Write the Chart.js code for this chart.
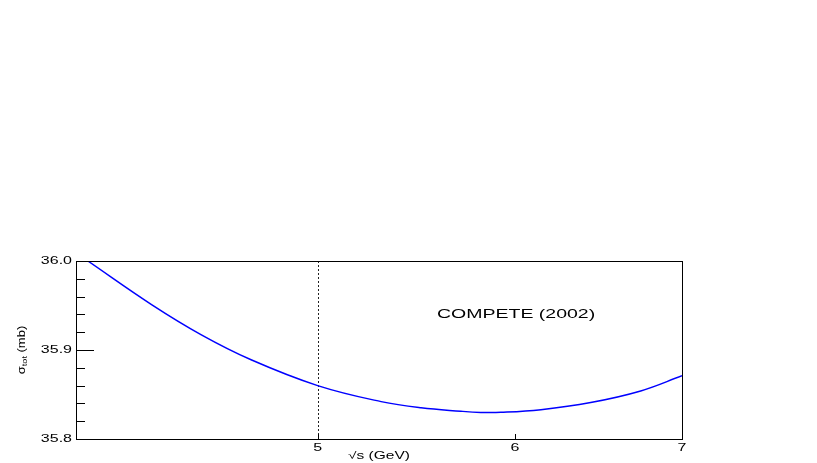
<!DOCTYPE html>
<html>
<head>
<meta charset="utf-8">
<script src="https://cdn.jsdelivr.net/npm/chart.js@4/dist/chart.umd.min.js"></script>
<style>
  html, body { margin: 0; padding: 0; background: #fff; }
  #wrap { width: 817px; height: 463px; }
</style>
</head>
<body>
<div id="wrap"><canvas id="myChart" width="817" height="463"></canvas></div>
<script>
// curve: sqrt(s) in GeV, sigma_tot in mb
const sqrtS = [4.044, 4.289, 4.491, 4.702, 5.0, 5.302, 5.501, 5.707, 5.813, 5.922, 6.145, 6.434, 6.738, 7.0];
const sigmaTot = [36.0, 35.951, 35.917, 35.889, 35.86, 35.842, 35.835, 35.8312, 35.8299, 35.83, 35.833, 35.841, 35.854, 35.871];

// axes
const xTickValues = [5, 6, 7];
const xTickLabels = ["5", "6", "7"];
const yMajorTicks = [35.8, 35.9, 36.0];
const yTickLabels = ["35.8", "35.9", "36.0"];
const yMinorTicks = [35.82, 35.84, 35.86, 35.88, 35.92, 35.94, 35.96, 35.98];
const markLine = 5;

const xTitle = "\u221As (GeV)";
const yTitle = ["\u03C3", "tot", " (mb)"];
const note = "COMPETE (2002)";

const FONT = "Liberation Sans, Arial, sans-serif";

// ROOT-ish wide text
function wideText(ctx, text, x, y, sx, align) {
  ctx.save();
  ctx.translate(x, y);
  ctx.scale(sx, 1);
  ctx.textAlign = align;
  ctx.fillText(text, 0, 0);
  ctx.restore();
}

const framePlugin = {
  id: "frame",
  beforeDatasetsDraw(chart) {
    const ctx = chart.ctx;
    const a = chart.chartArea;
    const xs = chart.scales.x;
    // dotted line
    const px = Math.round(xs.getPixelForValue(markLine)) + 0.5;
    ctx.save();
    ctx.strokeStyle = "#222";
    ctx.lineWidth = 1;
    ctx.setLineDash([2, 2]);
    ctx.beginPath();
    ctx.moveTo(px, a.top);
    ctx.lineTo(px, a.bottom);
    ctx.stroke();
    ctx.restore();
  },
  afterDraw(chart) {
    const ctx = chart.ctx;
    const a = chart.chartArea;
    const xs = chart.scales.x;
    const ys = chart.scales.y;
    ctx.save();
    ctx.strokeStyle = "#000";
    ctx.lineWidth = 1;
    ctx.strokeRect(Math.round(a.left) + 0.5, Math.round(a.top) + 0.5,
      Math.round(a.right - a.left), Math.round(a.bottom - a.top));

    // inward ticks
    ctx.beginPath();
    yMajorTicks.forEach((v) => {
      const y = Math.round(ys.getPixelForValue(v)) + 0.5;
      ctx.moveTo(a.left, y);
      ctx.lineTo(a.left + 18, y);
    });
    yMinorTicks.forEach((v) => {
      const y = Math.round(ys.getPixelForValue(v)) + 0.5;
      ctx.moveTo(a.left, y);
      ctx.lineTo(a.left + 9, y);
    });
    xTickValues.forEach((v) => {
      const x = Math.round(xs.getPixelForValue(v)) + 0.5;
      ctx.moveTo(x, a.bottom);
      ctx.lineTo(x, a.bottom - 5);
    });
    ctx.stroke();

    // tick labels
    ctx.fillStyle = "#000";
    ctx.textBaseline = "middle";
    ctx.font = "10px " + FONT;
    yMajorTicks.forEach((v, i) => {
      wideText(ctx, yTickLabels[i], a.left - 4, ys.getPixelForValue(v), 1.6, "right");
    });
    xTickValues.forEach((v, i) => {
      wideText(ctx, xTickLabels[i], xs.getPixelForValue(v), a.bottom + 9, 1.6, "center");
    });

    // axis titles
    ctx.font = "10px " + FONT;
    wideText(ctx, xTitle, (a.left + a.right) / 2, a.bottom + 17, 1.55, "center");

    ctx.save();
    ctx.translate(22, (a.top + a.bottom) / 2);
    ctx.rotate(-Math.PI / 2);
    ctx.scale(1.3, 1);
    ctx.textAlign = "left";
    ctx.font = "10px " + FONT;
    const w0 = ctx.measureText(yTitle[0]).width;
    const w2 = ctx.measureText(yTitle[2]).width;
    ctx.font = "7px " + FONT;
    const w1 = ctx.measureText(yTitle[1]).width;
    let x0 = -(w0 + w1 + w2) / 2;
    ctx.font = "10px " + FONT;
    ctx.fillText(yTitle[0], x0, 0);
    ctx.font = "7px " + FONT;
    ctx.fillText(yTitle[1], x0 + w0, 3);
    ctx.font = "10px " + FONT;
    ctx.fillText(yTitle[2], x0 + w0 + w1, 0);
    ctx.restore();

    // label inside the pad
    ctx.font = "12.5px " + FONT;
    wideText(ctx, note, a.left + 361, a.top + 54, 1.56, "left");
    ctx.restore();
  },
};

const ctx = document.getElementById("myChart");

const chart = new Chart(ctx, {
  type: "line",
  data: {
    datasets: [
      {
        label: "COMPETE",
        data: sqrtS.map((s, i) => ({ x: s, y: sigmaTot[i] })),
        borderColor: "#0000ff",
        borderWidth: 1.5,
        pointRadius: 0,
        tension: 0.4,
        fill: false,
        clip: 0,
      },
    ],
  },
  options: {
    responsive: false,
    animation: false,
    events: [],
    layout: {
      padding: { left: 76, top: 261, right: 135, bottom: 24 },
    },
    plugins: {
      legend: { display: false },
      tooltip: { enabled: false },
      title: { display: false },
    },
    scales: {
      x: {
        type: "logarithmic",
        min: 4,
        max: 7,
        display: false,
      },
      y: {
        type: "linear",
        min: 35.8,
        max: 36.0,
        display: false,
      },
    },
  },
  plugins: [framePlugin],
});
</script>
</body>
</html>
